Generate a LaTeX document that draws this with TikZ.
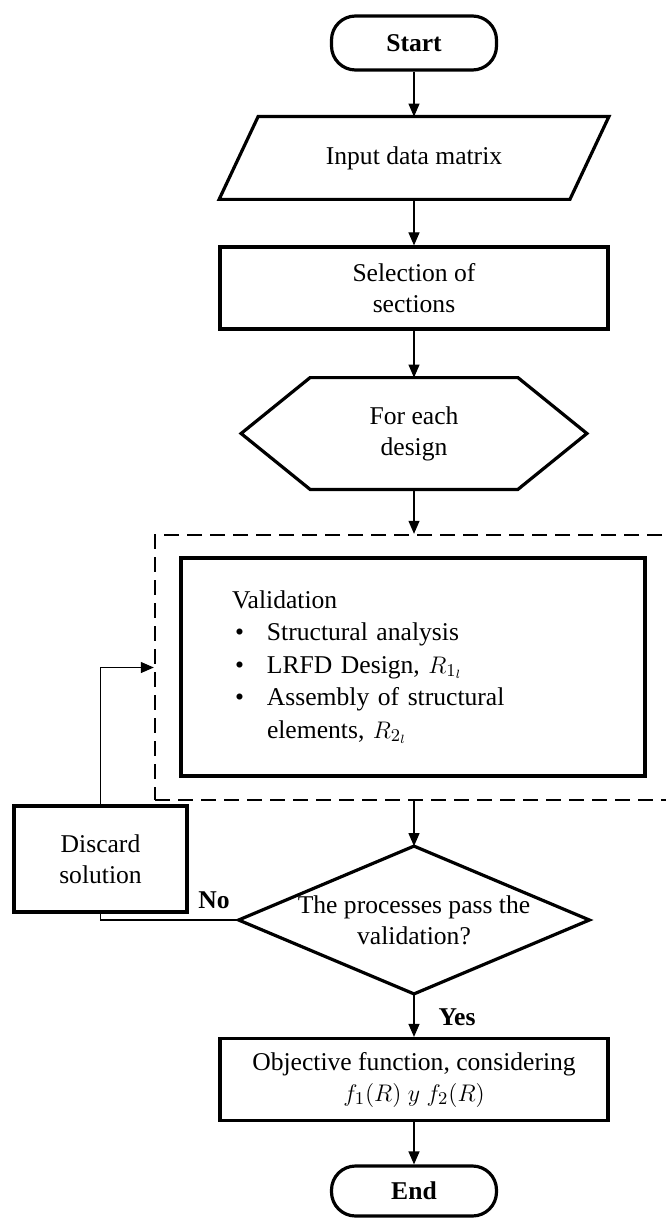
\documentclass[tikz,border=0pt]{standalone}
\usepackage{fontspec}
\setmainfont{Liberation Serif}
\usetikzlibrary{arrows.meta}
\newcommand\flowfont{\fontsize{12.8}{15.5}\selectfont}
\newcommand\bul{\makebox[17.5pt][l]{\hspace{1.5pt}\textbullet}}
\tikzset{
	plain/.style={inner sep=0pt, align=center, font=\flowfont},
	box/.style={plain, draw, line width=1.6pt, minimum width=194pt, minimum height=41pt},
	outline/.style={line width=1.6pt},
	terminal/.style={plain, draw, line width=1.6pt, rounded corners=12pt, minimum width=82.5pt, minimum height=27pt, font=\flowfont\bfseries},
	loopbox/.style={draw, dash pattern=on 7.5pt off 4pt, line width=1.2pt, minimum width=267.5pt, minimum height=132.5pt},
	flow/.style={line width=0.6pt, -{Triangle[length=6.5pt,width=5.5pt]}},
	link/.style={line width=0.6pt},
	tag/.style={plain, font=\flowfont\bfseries}
}

\begin{document}
\begin{tikzpicture}[x=0.5pt, y=-0.5pt]
	\useasboundingbox (0,0) rectangle (665,1219);

	\node[terminal] (start) at (414,43) {Start};

	\node[plain, minimum width=175pt, minimum height=41pt] (input) at (414,158) {Input data matrix};
	\draw[outline] ([xshift=9.75pt]input.north west) -- ([xshift=9.75pt]input.north east) -- ([xshift=-9.75pt]input.south east) -- ([xshift=-9.75pt]input.south west) -- cycle;

	\node[box] (select) at (414,288) {Selection of\\sections};

	\node[plain, minimum width=172.5pt, minimum height=55.5pt] (each) at (414,433.5) {For each\\design};
	\draw[outline] (each.west) -- ([xshift=34.5pt]each.north west) -- ([xshift=-34.5pt]each.north east) -- (each.east) -- ([xshift=-34.5pt]each.south east) -- ([xshift=34.5pt]each.south west) -- cycle;

	% validation block
	\node[loopbox] (loop) at (422.5,667.5) {};
	\node[box, minimum width=232pt, minimum height=109pt, text width=181pt, inner xsep=25.5pt, align=left, font=\fontsize{12.8}{16.25}\selectfont] (valid) at (413,667) {Validation\\
		\bul Structural analysis\\
		\bul LRFD Design, $R_{1_l}$\\
		\bul Assembly of structural\\
		\hspace*{17.5pt}elements, $R_{2_l}$};

	\node[box, minimum width=86.5pt, minimum height=53pt] (discard) at (100.5,859) {Discard\\solution};

	\node[plain, minimum width=175pt, minimum height=73.5pt] (decide) at (414,920) {The processes pass the\\validation?};
	\draw[outline] (decide.west) -- (decide.north) -- (decide.east) -- (decide.south) -- cycle;

	\node[box] (objective) at (414,1079.5) {Objective function, considering\\$f_1(R)\ y\ f_2(R)$};

	\node[terminal, minimum height=25pt] (end) at (414,1191) {End};

	\node[tag] (no) at (214,900) {No};
	\node[tag] (yes) at (457,1017) {Yes};

	\draw[flow] (start) -- (input);
	\draw[flow] (input) -- (select);
	\draw[flow] (select) -- (each);
	\draw[flow] (each.south) -- (each.south |- loop.north);
	\draw[flow] (decide.north |- loop.south) -- (decide.north);
	\draw[flow] (decide) -- (objective);
	\draw[flow] (objective) -- (end);
	\draw[link] (decide.west) -| (discard.south);
	\draw[flow] (discard.north) |- (loop.west);
\end{tikzpicture}
\end{document}
